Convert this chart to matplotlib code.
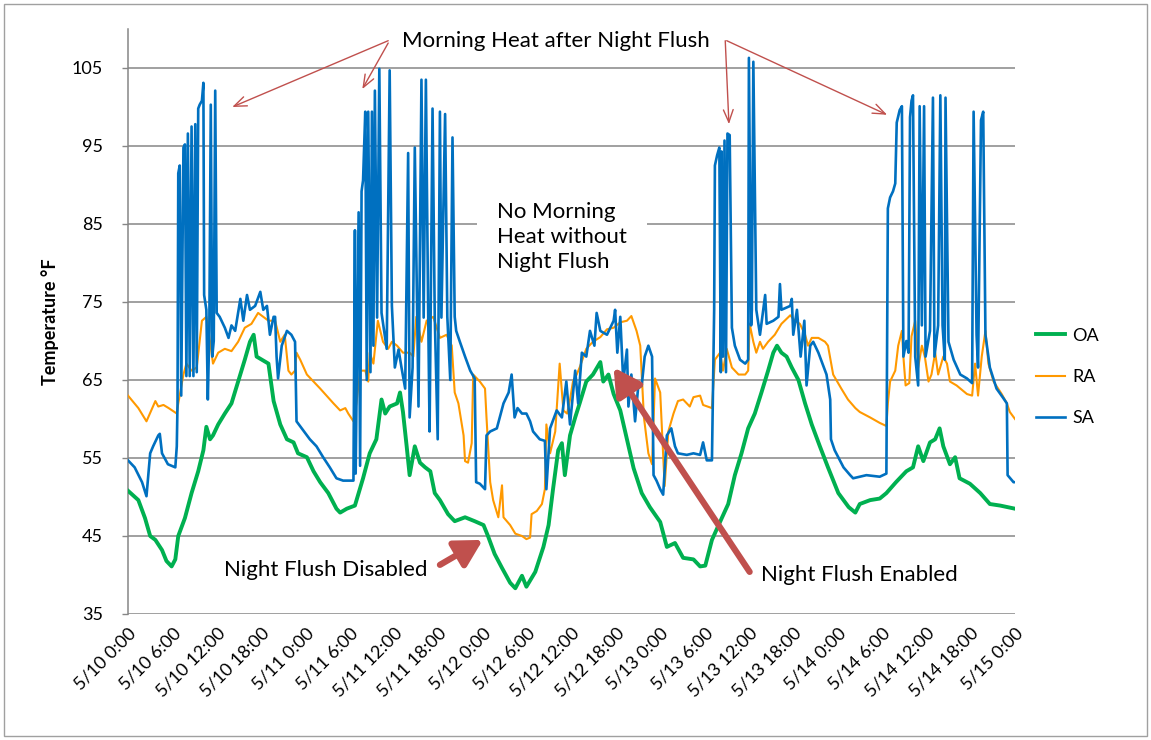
import matplotlib
matplotlib.use("Agg")
import matplotlib.pyplot as plt
from matplotlib.patches import Rectangle

plt.rcParams['font.family'] = ['Lato', 'DejaVu Sans']

# ---- data (hours since 5/10 0:00, temperature °F) ----
oa_hours = [0.0, 1.4, 2.3, 3.0, 3.7, 4.6, 5.2, 5.9, 6.4, 6.8, 7.7, 8.6, 9.5, 10.2, 10.6, 11.1, 11.5,
            12.2, 13.1, 14.0, 14.9, 15.8, 16.5, 17.0, 17.4, 18.1, 19.0, 19.7, 20.6, 21.5, 22.4, 23.0,
            24.2, 25.1, 26.0, 27.1, 28.2, 28.7, 29.6, 30.7, 31.2, 31.8, 32.7, 33.6, 34.3, 34.8, 35.4,
            36.4, 36.8, 37.2, 37.7, 38.1, 38.8, 39.5, 40.2, 40.9, 41.5, 42.2, 43.3, 44.2, 45.6, 46.9,
            48.1, 48.7, 49.6, 50.6, 51.7, 52.4, 53.3, 53.9, 55.1, 56.2, 56.9, 57.5, 58.2, 58.7, 59.1,
            59.8, 60.5, 61.1, 62.0, 62.9, 63.9, 64.3, 65.0, 65.7, 66.6, 67.5, 68.4, 69.5, 70.6, 72.0,
            72.9, 74.0, 75.1, 76.5, 77.4, 78.1, 79.0, 79.9, 81.2, 82.1, 83.0, 83.9, 84.8, 85.7, 86.6,
            87.3, 87.8, 88.4, 89.1, 89.8, 90.7, 91.6, 92.5, 93.6, 94.7, 96.1, 97.5, 98.4, 99.0, 100.4,
            101.7, 102.6, 103.9, 105.3, 106.2, 106.9, 107.6, 108.5, 109.2, 109.8, 110.3, 111.2, 111.9,
            112.5, 113.9, 115.3, 116.6, 118.0, 120.0]
oa_temp = [50.8, 49.6, 47.3, 45.0, 44.5, 43.2, 41.8, 41.1, 42.0, 45.0, 47.3, 50.5, 53.3, 56.0, 59.0, 57.4, 57.9,
           59.3, 60.7, 62.0, 64.8, 67.6, 69.9, 70.8, 68.0, 67.6, 67.1, 62.3, 59.3, 57.4, 57.0, 55.6,
           55.1, 53.3, 51.9, 50.5, 48.5, 48.0, 48.5, 48.9, 50.5, 52.4, 55.6, 57.4, 62.5, 60.7, 61.6,
           62.0, 63.4, 60.9, 56.5, 52.8, 56.5, 54.4, 53.8, 53.3, 50.5, 49.6, 47.8, 46.9, 47.4, 46.9,
           46.4, 45.0, 42.7, 40.9, 39.0, 38.3, 39.9, 38.5, 40.4, 43.6, 46.4, 51.0, 56.0, 56.9, 52.8,
           57.9, 60.2, 62.0, 64.8, 65.7, 67.3, 64.8, 65.7, 63.2, 61.1, 57.4, 53.7, 50.5, 48.7, 46.8,
           43.6, 44.1, 42.2, 42.0, 41.1, 41.2, 44.5, 46.4, 49.1, 52.8, 55.6, 58.8, 60.7, 63.4, 66.2,
           68.5, 69.4, 68.5, 68.0, 66.6, 65.0, 62.0, 59.3, 56.5, 53.8, 50.5, 48.7, 48.0, 49.1, 49.6,
           49.8, 50.5, 51.9, 53.3, 53.8, 56.5, 54.6, 57.0, 57.4, 58.8, 56.5, 54.2, 55.1,
           52.4, 51.7, 50.5, 49.1, 48.9, 48.5]

ra_hours = [0.0, 1.4, 2.5, 3.7, 4.1, 4.8, 5.5, 6.6, 6.8, 7.5, 7.9, 8.6, 9.3, 10.0, 10.6, 11.1, 11.5, 12.2,
            13.1, 14.0, 14.9, 15.8, 16.7, 17.6, 18.3, 19.0, 19.9, 20.6, 21.2, 21.7, 22.1, 22.6, 22.8,
            23.3, 24.2, 26.0, 27.8, 28.7, 29.4, 29.8, 30.5, 30.9, 31.4, 32.1, 32.5, 32.7, 33.2, 33.8,
            34.5, 35.2, 35.7, 36.4, 37.2, 38.1, 38.6, 39.0, 39.7, 40.4, 41.3, 42.2, 43.1, 43.8, 44.2,
            44.7, 45.4, 45.6, 46.0, 46.5, 46.7, 47.6, 48.3, 48.5, 49.0, 49.4, 50.1, 50.6, 50.8, 51.7,
            52.4, 53.3, 53.9, 54.4, 54.6, 55.3, 56.0, 56.4, 56.6, 57.1, 57.8, 58.4, 58.9, 59.4, 59.8,
            60.2, 60.7, 61.1, 62.0, 62.9, 63.9, 64.8, 65.7, 66.6, 67.5, 68.1, 68.8, 69.3, 69.8, 70.4,
            70.9, 71.3, 72.0, 72.6, 73.1, 73.8, 74.4, 75.1, 76.0, 76.5, 77.4, 77.8, 79.0, 79.4, 80.1,
            80.5, 81.0, 81.7, 82.6, 83.5, 83.9, 84.1, 84.6, 85.0, 85.5, 85.9, 86.6, 87.5, 88.4, 89.6,
            90.2, 90.9, 91.6, 92.0, 92.5, 93.4, 94.3, 94.7, 95.4, 96.5, 97.4, 98.4, 99.0, 100.4, 101.7,
            102.6, 102.8, 103.1, 103.8, 104.2, 104.7, 104.9, 105.2, 105.7, 106.0, 106.5, 106.9, 107.4,
            107.8, 108.3, 108.7, 109.2, 109.6, 110.3, 110.8, 111.2, 112.1, 113.5, 114.2, 114.6, 115.0,
            115.5, 116.0, 116.4, 117.1, 118.2, 118.9, 119.3, 120.0]
ra_temp = [63.0, 61.4, 59.7, 62.3, 61.6, 61.8, 61.4, 60.7, 62.0, 65.7, 67.1, 66.2, 66.6, 72.6, 73.1, 69.9, 67.1, 68.5,
           69.0, 68.7, 69.9, 71.7, 72.2, 73.6, 73.1, 72.6, 72.6, 69.9, 70.8, 66.2, 65.7, 66.2, 68.5,
           67.6, 65.7, 63.9, 62.0, 61.1, 61.4, 60.7, 59.7, 62.0, 66.2, 66.2, 64.8, 68.5, 67.1, 72.6,
           69.9, 69.0, 69.9, 69.4, 68.5, 68.5, 68.0, 73.1, 69.9, 72.6, 73.1, 70.4, 70.8, 69.4, 63.4,
           62.0, 57.9, 54.6, 54.4, 56.9, 65.7, 64.8, 63.9, 60.2, 51.9, 49.6, 47.4, 51.5, 47.4, 46.4,
           45.3, 45.0, 44.6, 44.8, 47.8, 48.2, 49.1, 51.0, 59.3, 55.6, 58.4, 67.1, 61.1, 60.7, 62.5,
           64.8, 65.7, 66.6, 69.0, 69.9, 70.5, 71.5, 71.7, 72.4, 72.6, 73.2, 71.3, 69.4, 60.2, 55.6,
           54.2, 65.2, 63.4, 51.4, 58.4, 60.7, 62.3, 62.5, 61.6, 62.8, 63.0, 61.8, 61.4, 67.6, 68.5,
           66.2, 69.0, 66.6, 65.7, 65.7, 66.2, 72.2, 69.9, 68.5, 69.9, 69.0, 69.9, 70.8, 72.2, 73.3,
           72.6, 72.2, 70.8, 69.4, 70.4, 70.4, 69.9, 69.4, 65.7, 63.9, 62.5, 61.4, 60.9, 60.2, 59.5,
           59.1, 62.0, 64.8, 66.2, 69.4, 71.3, 68.0, 64.3, 64.6, 70.6, 72.6, 66.6, 69.4,
           68.0, 64.8, 65.7, 68.5, 65.7, 68.0, 67.1, 64.8, 64.3, 63.2, 63.0, 67.1, 63.0,
           68.0, 71.3, 67.1, 64.8, 63.2, 62.0, 60.9, 60.0]

sa_hours = [0.0, 0.9, 1.9, 2.5, 3.0, 3.4, 4.1, 4.3, 4.6, 5.4, 6.4, 6.6, 6.7, 6.8, 7.0, 7.2, 7.5, 7.7, 7.9,
            8.1, 8.35, 8.6, 8.85, 9.1, 9.3, 9.5, 9.7, 10.0, 10.2, 10.3, 10.6, 10.8, 11.0, 11.2, 11.4,
            11.6, 11.8, 12.0, 12.4, 13.1, 13.6, 14.0, 14.5, 15.2, 15.6, 16.1, 16.5, 17.2, 17.9, 18.3,
            18.8, 19.2, 19.7, 19.9, 20.1, 20.3, 20.8, 21.5, 22.1, 22.6, 22.8, 23.5, 24.2, 24.6, 25.5,
            26.4, 27.3, 28.2, 29.1, 30.5, 30.7, 30.8, 31.2, 31.4, 31.6, 31.8, 32.1, 32.3, 32.5, 32.8,
            33.0, 33.2, 33.4, 33.7, 34.0, 34.3, 35.0, 35.4, 35.7, 36.1, 36.6, 37.0, 37.5, 37.9, 38.1,
            38.5, 38.8, 39.3, 39.7, 40.0, 40.3, 40.6, 40.8, 41.2, 41.5, 41.9, 42.2, 42.4, 42.9, 43.2,
            43.6, 43.9, 44.2, 44.4, 44.9, 45.6, 46.3, 46.9, 47.1, 47.6, 48.3, 48.5, 49.0, 49.9, 50.8,
            51.5, 51.9, 52.3, 52.7, 53.3, 53.9, 54.4, 54.8, 55.7, 56.4, 56.6, 57.1, 58.0, 58.7, 59.3,
            59.8, 60.5, 60.9, 61.4, 62.0, 62.5, 63.1, 63.4, 63.9, 64.8, 65.7, 65.9, 66.2, 66.6, 67.0,
            67.5, 67.7, 68.1, 68.6, 69.0, 69.5, 69.9, 70.4, 70.9, 71.1, 71.5, 72.0, 72.4, 72.9, 73.5,
            74.0, 74.4, 75.6, 76.5, 77.4, 77.8, 78.3, 79.0, 79.3, 79.4, 79.7, 80.0, 80.2, 80.3, 80.5,
            80.7, 80.9, 81.1, 81.4, 81.7, 82.1, 82.8, 83.5, 83.9, 84.0, 84.3, 84.4, 84.6, 85.0, 85.5,
            86.2, 86.4, 87.3, 88.0, 88.2, 88.4, 89.6, 89.8, 90.0, 90.5, 91.0, 91.5, 91.8, 92.3, 92.7,
            93.4, 94.5, 95.0, 95.1, 95.6, 96.8, 97.7, 98.1, 99.9, 101.7, 102.6, 102.8, 103.1, 103.5,
            103.8, 104.0, 104.4, 104.7, 104.9, 105.3, 105.6, 105.8, 106.0, 106.2, 106.5, 106.9, 107.1,
            107.4, 107.7, 107.9, 108.5, 108.9, 109.1, 109.6, 109.9, 110.2, 110.5, 110.6, 111.0, 111.7,
            112.6, 113.5, 114.2, 114.4, 114.8, 115.0, 115.4, 115.7, 116.0, 116.6, 117.5, 118.4, 118.9,
            119.0, 119.8, 120.0]
sa_temp = [54.7, 53.8, 51.9, 50.1, 55.6, 56.5, 57.9, 58.1, 55.6, 54.2, 53.8, 56.5, 62.0, 91.5, 92.5, 63.0, 94.8, 95.2, 65.5,
           96.6, 65.5, 97.5, 65.5, 97.8, 66.0, 99.8, 100.3, 100.8, 103.1, 75.9, 74.0, 62.5, 71.3, 100.3, 68.0,
           70.0, 102.1, 73.6, 73.1, 71.7, 70.4, 72.0, 71.3, 75.4, 72.6, 75.9, 74.0, 74.5, 76.3, 74.0,
           74.5, 70.8, 73.1, 73.1, 68.0, 65.2, 69.4, 71.3, 70.8, 69.9, 59.7, 58.8, 57.9, 57.4, 56.5,
           55.1, 53.8, 52.4, 52.1, 52.1, 84.2, 53.0, 86.5, 54.0, 89.2, 90.6, 99.4, 65.0, 99.4, 66.0,
           99.4, 69.4, 102.1, 73.0, 104.9, 73.6, 69.0, 104.7, 74.5, 66.6, 68.9, 66.6, 63.9, 94.1, 60.2,
           66.6, 94.8, 61.6, 103.5, 73.0, 103.5, 74.5, 58.4, 99.8, 73.1, 57.4, 99.4, 73.0, 99.1, 73.1,
           65.0, 96.1, 73.1, 71.3, 69.9, 68.0, 66.2, 65.2, 51.9, 51.7, 51.0, 57.9, 58.4, 58.8, 62.0,
           63.4, 65.7, 60.2, 61.4, 60.7, 60.7, 59.7, 58.4, 57.4, 57.2, 51.0, 58.8, 61.1, 60.2, 64.8,
           59.3, 66.2, 62.0, 68.5, 68.0, 71.3, 69.4, 73.6, 71.3, 70.8, 72.6, 74.0, 68.5, 73.1, 64.8,
           68.9, 61.6, 65.7, 59.7, 63.9, 64.3, 68.0, 69.4, 68.0, 52.8, 52.1, 51.0, 50.3, 57.9, 58.8,
           56.5, 55.6, 55.4, 55.6, 55.4, 57.0, 54.7, 54.7, 74.0, 92.5, 93.8, 94.8, 66.0, 94.3, 68.0,
           95.7, 66.0, 96.6, 96.4, 71.7, 69.4, 67.6, 67.1, 67.6, 106.3, 72.0, 74.0, 105.8, 74.0, 70.8,
           75.9, 72.2, 72.6, 73.1, 77.3, 74.0, 74.5, 75.4, 70.8, 74.0, 68.0, 72.6, 64.3, 69.4, 69.9,
           68.5, 65.7, 62.5, 57.4, 56.0, 53.8, 52.8, 52.4, 52.8, 52.6, 53.0, 87.0, 88.4, 89.2,
           90.2, 98.0, 99.6, 100.1, 68.0, 70.0, 68.5, 98.7, 100.8, 101.5, 68.0, 64.3, 100.1,
           72.0, 100.1, 68.0, 71.3, 101.2, 68.0, 72.0, 101.5, 72.0, 67.6, 101.2, 69.9, 67.6,
           65.7, 65.2, 64.6, 99.4, 70.8, 66.6, 98.3, 99.4, 70.8, 66.6, 63.9, 62.7, 62.0,
           52.8, 51.9, 51.9]

tick_hours = list(range(0, 121, 6))
tick_labels = ["5/10 0:00", "5/10 6:00", "5/10 12:00", "5/10 18:00",
               "5/11 0:00", "5/11 6:00", "5/11 12:00", "5/11 18:00",
               "5/12 0:00", "5/12 6:00", "5/12 12:00", "5/12 18:00",
               "5/13 0:00", "5/13 6:00", "5/13 12:00", "5/13 18:00",
               "5/14 0:00", "5/14 6:00", "5/14 12:00", "5/14 18:00", "5/15 0:00"]
y_ticks = [35, 45, 55, 65, 75, 85, 95, 105]

# ---- figure ----
W, H = 1151, 740
fig = plt.figure(figsize=(W / 100, H / 100), dpi=100)
ax = fig.add_axes([128 / W, 1 - 614 / H, (1015 - 128) / W, (614 - 29) / H])

grid_c = '#868686'
ax.plot(oa_hours, oa_temp, color='#00B050', lw=2.8, label='OA', zorder=3, solid_joinstyle='round')
ax.plot(ra_hours, ra_temp, color='#FF9900', lw=1.5, label='RA', zorder=4)
ax.plot(sa_hours, sa_temp, color='#0070C0', lw=1.9, label='SA', zorder=5)

ax.set_xlim(0, 120)
ax.set_ylim(35, 110)
ax.set_yticks(y_ticks)
ax.set_xticks(tick_hours)
ax.set_xticklabels(tick_labels, rotation=45, ha='right', va='top', rotation_mode='anchor', fontsize=13)
ax.tick_params(axis='x', length=0, pad=8)
ax.tick_params(axis='y', length=4, width=1, color=grid_c, pad=14, labelsize=13)
for yv in y_ticks:
    ax.axhline(yv, color=grid_c, lw=1.1, zorder=1)
for s in ['top', 'right', 'bottom']:
    ax.spines[s].set_visible(False)
ax.spines['left'].set_color(grid_c)
ax.spines['left'].set_linewidth(1.1)
ax.set_ylabel('Temperature °F', fontsize=13, fontweight='bold', labelpad=9)

# legend
fig.legend(loc='center left', bbox_to_anchor=(1020 / W, 1 - 377 / H), frameon=False,
           fontsize=13, handlelength=1.6, handletextpad=0.4, labelspacing=1.4)

# annotations
red = '#C0504D'
ax.text(57.9, 108.5, 'Morning Heat after Night Flush', fontsize=16, ha='center', va='center', zorder=6)
thin = dict(arrowstyle='->,head_length=0.9,head_width=0.35', color=red, lw=1.0, shrinkA=0, shrinkB=0)
for (x0, y0, x1, y1) in [(35.2, 108.5, 14.1, 100.0), (35.2, 108.2, 31.7, 102.3),
                         (80.8, 108.5, 81.3, 97.8), (81.0, 108.5, 102.7, 99.0)]:
    ax.annotate('', xy=(x1, y1), xytext=(x0, y0), arrowprops=thin, zorder=6)

ax.text(49.9, 83.3, 'No Morning\nHeat without\nNight Flush', fontsize=16, ha='left', va='center',
        linespacing=1.3, zorder=6,
        bbox=dict(boxstyle='square,pad=0.9', facecolor='white', edgecolor='none'))

ax.text(26.7, 40.7, 'Night Flush Disabled', fontsize=16, ha='center', va='center', zorder=6)
ax.text(98.9, 40.0, 'Night Flush Enabled', fontsize=16, ha='center', va='center', zorder=6)
thick = dict(arrowstyle='-|>,head_length=0.9,head_width=0.5', color=red, lw=4.5, shrinkA=0, shrinkB=0,
             mutation_scale=18)
ax.annotate('', xy=(48.0, 44.5), xytext=(42.2, 41.3), arrowprops=thick, zorder=7)
ax.annotate('', xy=(65.7, 66.6), xytext=(84.1, 40.4), arrowprops=thick, zorder=7)

# outer chart border
fig.patches.append(Rectangle((4 / W, 4 / H), (1147 - 4) / W, (736 - 4) / H, transform=fig.transFigure,
                             fill=False, edgecolor='#A0A0A0', lw=1.0))

fig.savefig('out.png', dpi=100)
